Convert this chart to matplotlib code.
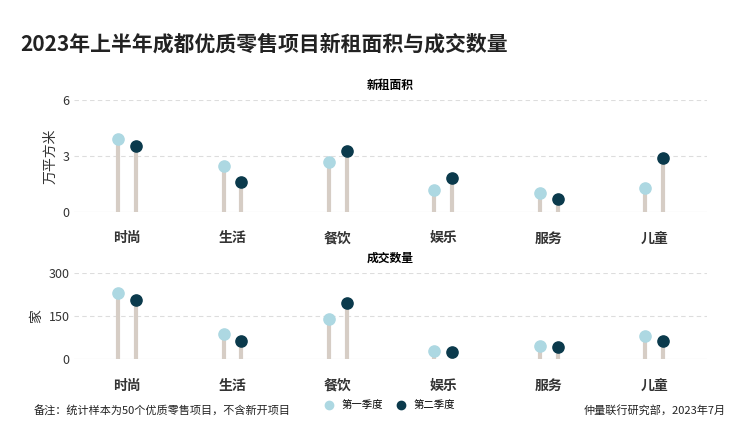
import matplotlib
matplotlib.use("Agg")
import matplotlib.pyplot as plt
import numpy as np

plt.rcParams['font.family'] = 'Noto Sans CJK SC'

categories = ["时尚", "生活", "餐饮", "娱乐", "服务", "儿童"]
area_q1 = [3.9, 2.45, 2.65, 1.2, 1.0, 1.3]
area_q2 = [3.55, 1.6, 3.25, 1.8, 0.7, 2.9]
count_q1 = [230, 87, 140, 28, 45, 80]
count_q2 = [206, 63, 195, 25, 42, 63]
series_names = ["第一季度", "第二季度"]

c1, c2, stem = "#add8e2", "#0b3a4c", "#d6cdc5"

fig = plt.figure(figsize=(7.44, 4.38), dpi=100)
fig.text(0.027, 0.885, "2023年上半年成都优质零售项目新租面积与成交数量", fontsize=15, fontweight='bold', color='#222')

def panel(rect, v1, v2, yticks, ylabel, title):
    ax = fig.add_axes(rect)
    x = np.arange(len(categories))
    off = 0.085
    for xs, vs, c in [(x - off, v1, c1), (x + off, v2, c2)]:
        ax.vlines(xs, 0, vs, color=stem, lw=3, zorder=1)
        ax.scatter(xs, vs, s=65, color=c, zorder=3)
    ax.set_xlim(-0.5, len(categories) - 0.5)
    ax.set_ylim(0, yticks[-1])
    ax.set_yticks(yticks)
    ax.set_xticks(x)
    ax.set_xticklabels(categories, fontsize=10, fontweight='bold', color='#222')
    ax.tick_params(length=0, labelsize=9, colors='#333')
    ax.tick_params(axis='x', labelsize=10, pad=14)
    for t in yticks[1:]:
        ax.axhline(t, color='#dddddd', lw=0.8, ls=(0, (4, 3)), zorder=0)
    ax.axhline(0, color='#cccccc', lw=0.8, zorder=0)
    for s in ax.spines.values():
        s.set_visible(False)
    ax.set_ylabel(ylabel, fontsize=10, color='#333')
    ax.set_title(title, fontsize=8.5, fontweight='bold', pad=8)
    return ax

panel([0.1, 0.516, 0.85, 0.256], area_q1, area_q2, [0, 3, 6], "万平方米", "新租面积")
panel([0.1, 0.18, 0.85, 0.196], count_q1, count_q2, [0, 150, 300], "家", "成交数量")

from matplotlib.lines import Line2D
h = [Line2D([], [], marker='o', ls='', color=c1, ms=6), Line2D([], [], marker='o', ls='', color=c2, ms=6)]
fig.legend(h, series_names, loc='center', bbox_to_anchor=(0.52, 0.075), ncol=2, frameon=False, fontsize=7.5, handletextpad=0.2, columnspacing=0.8)
fig.text(0.045, 0.055, "备注：统计样本为50个优质零售项目，不含新开项目", fontsize=8, color='#222')
fig.text(0.975, 0.055, "仲量联行研究部，2023年7月", fontsize=8, color='#222', ha='right')
fig.savefig("out.png", dpi=100)
